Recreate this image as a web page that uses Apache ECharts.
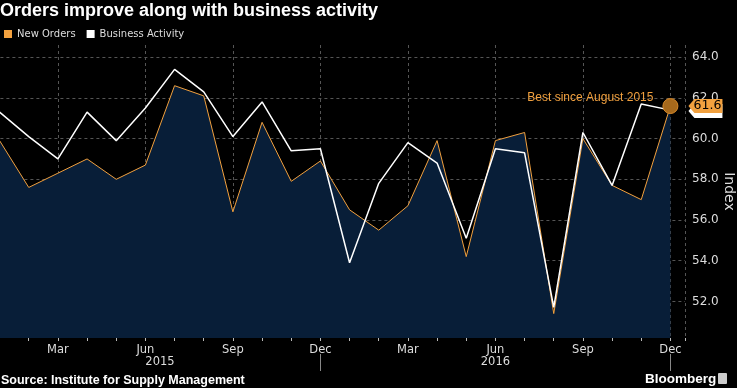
<!DOCTYPE html>
<html>
<head>
<meta charset="utf-8">
<script src="https://cdn.jsdelivr.net/npm/echarts@6/dist/echarts.min.js"></script>
<style>
html,body{margin:0;padding:0;background:#000;}
#chart{width:737px;height:388px;}
</style>
</head>
<body>
<div id="chart"></div>
<script>
// Month index 1 = Jan 2015 ... 24 = Dec 2016
const monthNames = ['Jan','Feb','Mar','Apr','May','Jun','Jul','Aug','Sep','Oct','Nov','Dec'];
const monthIndex = [1,2,3,4,5,6,7,8,9,10,11,12,13,14,15,16,17,18,19,20,21,22,23,24];
const newOrders = [59.9, 57.6, 58.3, 59.0, 58.0, 58.7, 62.6, 62.1, 56.4, 60.8, 57.9, 58.9,
                   56.5, 55.5, 56.7, 59.9, 54.2, 59.9, 60.3, 51.4, 60.0, 57.7, 57.0, 61.6];
const businessActivity = [61.3, 60.1, 59.0, 61.3, 59.9, 61.5, 63.4, 62.3, 60.1, 61.8, 59.4, 59.5,
                          53.9, 57.8, 59.8, 58.8, 55.1, 59.5, 59.3, 51.7, 60.3, 57.7, 61.7, 61.4];
const years = ['2015', '2016'];
const yTicks = [52, 54, 56, 58, 60, 62, 64];
const annotationText = 'Best since August 2015';

const yearLabelAt = [6.5, 18];
const yearSepAt = [12, 24];

const ORANGE = '#f2a13f';
const NAVY = '#081e38';
const FONT = 'DejaVu Sans';

const last = newOrders.length - 1;
const noData = monthIndex.map((m, i) => [m, newOrders[i]]);
const baData = monthIndex.map((m, i) => [m, businessActivity[i]]);
const flagPath = 'path://M0,7 L6,0 L34,0 L34,14 L6,14 Z';

const chart = echarts.init(document.getElementById('chart'));
chart.setOption({
  backgroundColor: '#000',
  animation: false,
  title: [
    { text: 'Orders improve along with business activity', left: 0, top: 2, padding: 0,
      textStyle: { color: '#fff', fontSize: 18, fontWeight: 'bold', fontFamily: 'Liberation Sans' } },
    { text: 'Source: Institute for Supply Management', left: 1, top: 374, padding: 0,
      textStyle: { color: '#fff', fontSize: 12.5, fontWeight: 'bold', fontFamily: 'Liberation Sans' } },
    { text: 'Bloomberg', left: 645, top: 372, padding: 0,
      textStyle: { color: '#fff', fontSize: 13.5, fontWeight: 'bold', fontFamily: 'Liberation Sans' } }
  ],
  graphic: [
    { type: 'rect', shape: { x: 718, y: 373, width: 9, height: 11, r: 1 }, style: { fill: '#ccc' } }
  ],
  legend: {
    left: 4, top: 29, padding: 0, icon: 'rect', itemWidth: 8, itemHeight: 8, itemGap: 11,
    textStyle: { color: '#ddd', fontSize: 10, fontFamily: FONT },
    data: ['New Orders', 'Business Activity']
  },
  grid: { left: -29.6, right: 52, top: 45, bottom: 50, outerBoundsMode: 'none', containLabel: false },
  xAxis: [
    {
      type: 'value', min: 0, max: 24.5, interval: 3,
      axisLine: { show: false },
      axisTick: { show: true, length: 3, lineStyle: { color: '#bbb' } },
      minorTick: { show: true, splitNumber: 3, length: 3, lineStyle: { color: '#bbb' } },
      splitLine: { show: true, lineStyle: { color: '#555', type: [3, 3], width: 1 } },
      axisLabel: {
        color: '#ddd', fontSize: 11.5, fontFamily: FONT, margin: 6, showMaxLabel: false,
        formatter: v => (v >= 1 && Number.isInteger(v)) ? monthNames[(v - 1) % 12] : ''
      }
    },
    {
      type: 'value', min: 0, max: 24.5, position: 'bottom', offset: 16,
      axisLine: { show: false },
      axisTick: { show: true, customValues: yearSepAt, length: 17, lineStyle: { color: '#888' } },
      splitLine: { show: false },
      axisLabel: {
        customValues: yearLabelAt, color: '#ddd', fontSize: 11.5, fontFamily: FONT, margin: 2,
        formatter: v => years[Math.floor((v - 1) / 12)]
      }
    }
  ],
  yAxis: {
    type: 'value', position: 'right', min: 50.2, max: 64.6, splitNumber: 7,
    name: 'Index', nameLocation: 'middle', nameRotate: -90, nameGap: 37, nameMoveOverlap: false,
    nameTextStyle: { color: '#ddd', fontSize: 14, fontFamily: FONT },
    axisLine: { show: true, lineStyle: { color: '#ccc', width: 1 } },
    axisTick: { show: true, customValues: yTicks, length: 5, lineStyle: { color: '#ccc' } },
    minorTick: { show: true, splitNumber: 2, length: 3, lineStyle: { color: '#ccc' } },
    splitLine: { show: true, lineStyle: { color: '#555', type: [3, 3], width: 1 } },
    axisLabel: {
      customValues: yTicks, color: '#ddd', fontSize: 12, fontFamily: FONT, margin: 7,
      formatter: v => v.toFixed(1)
    }
  },
  series: [
    {
      name: 'New Orders', type: 'line', data: noData, z: 2,
      symbol: 'none', color: ORANGE,
      lineStyle: { color: ORANGE, width: 1 },
      areaStyle: { color: NAVY, opacity: 1, origin: 'start' },
      markPoint: {
        z: 6, silent: true,
        data: [
          { coord: noData[last], value: newOrders[last], symbol: 'circle', symbolSize: 15,
            itemStyle: { color: '#a6691c', borderColor: '#d98a2a', borderWidth: 1 },
            label: { show: true, position: 'left', distance: 9, offset: [0, -8],
              formatter: annotationText, color: ORANGE, fontSize: 12, fontFamily: 'Liberation Sans' } },
          { coord: noData[last], value: newOrders[last], symbol: flagPath, symbolSize: [34, 14],
            symbolOffset: [35, 0], symbolKeepAspect: false,
            itemStyle: { color: ORANGE },
            label: { show: true, position: 'inside', offset: [2, 0], formatter: p => p.value.toFixed(1),
              color: '#000', fontSize: 12.5, fontFamily: FONT } }
        ]
      }
    },
    {
      name: 'Business Activity', type: 'line', data: baData, z: 3,
      symbol: 'none', color: '#fff',
      lineStyle: { color: '#fff', width: 1.5 },
      markPoint: {
        z: 5, silent: true,
        data: [
          { coord: baData[last], value: businessActivity[last], symbol: flagPath, symbolSize: [34, 14],
            symbolOffset: [35, 1], itemStyle: { color: '#fff' }, label: { show: false } }
        ]
      }
    }
  ]
});
</script>
</body>
</html>
